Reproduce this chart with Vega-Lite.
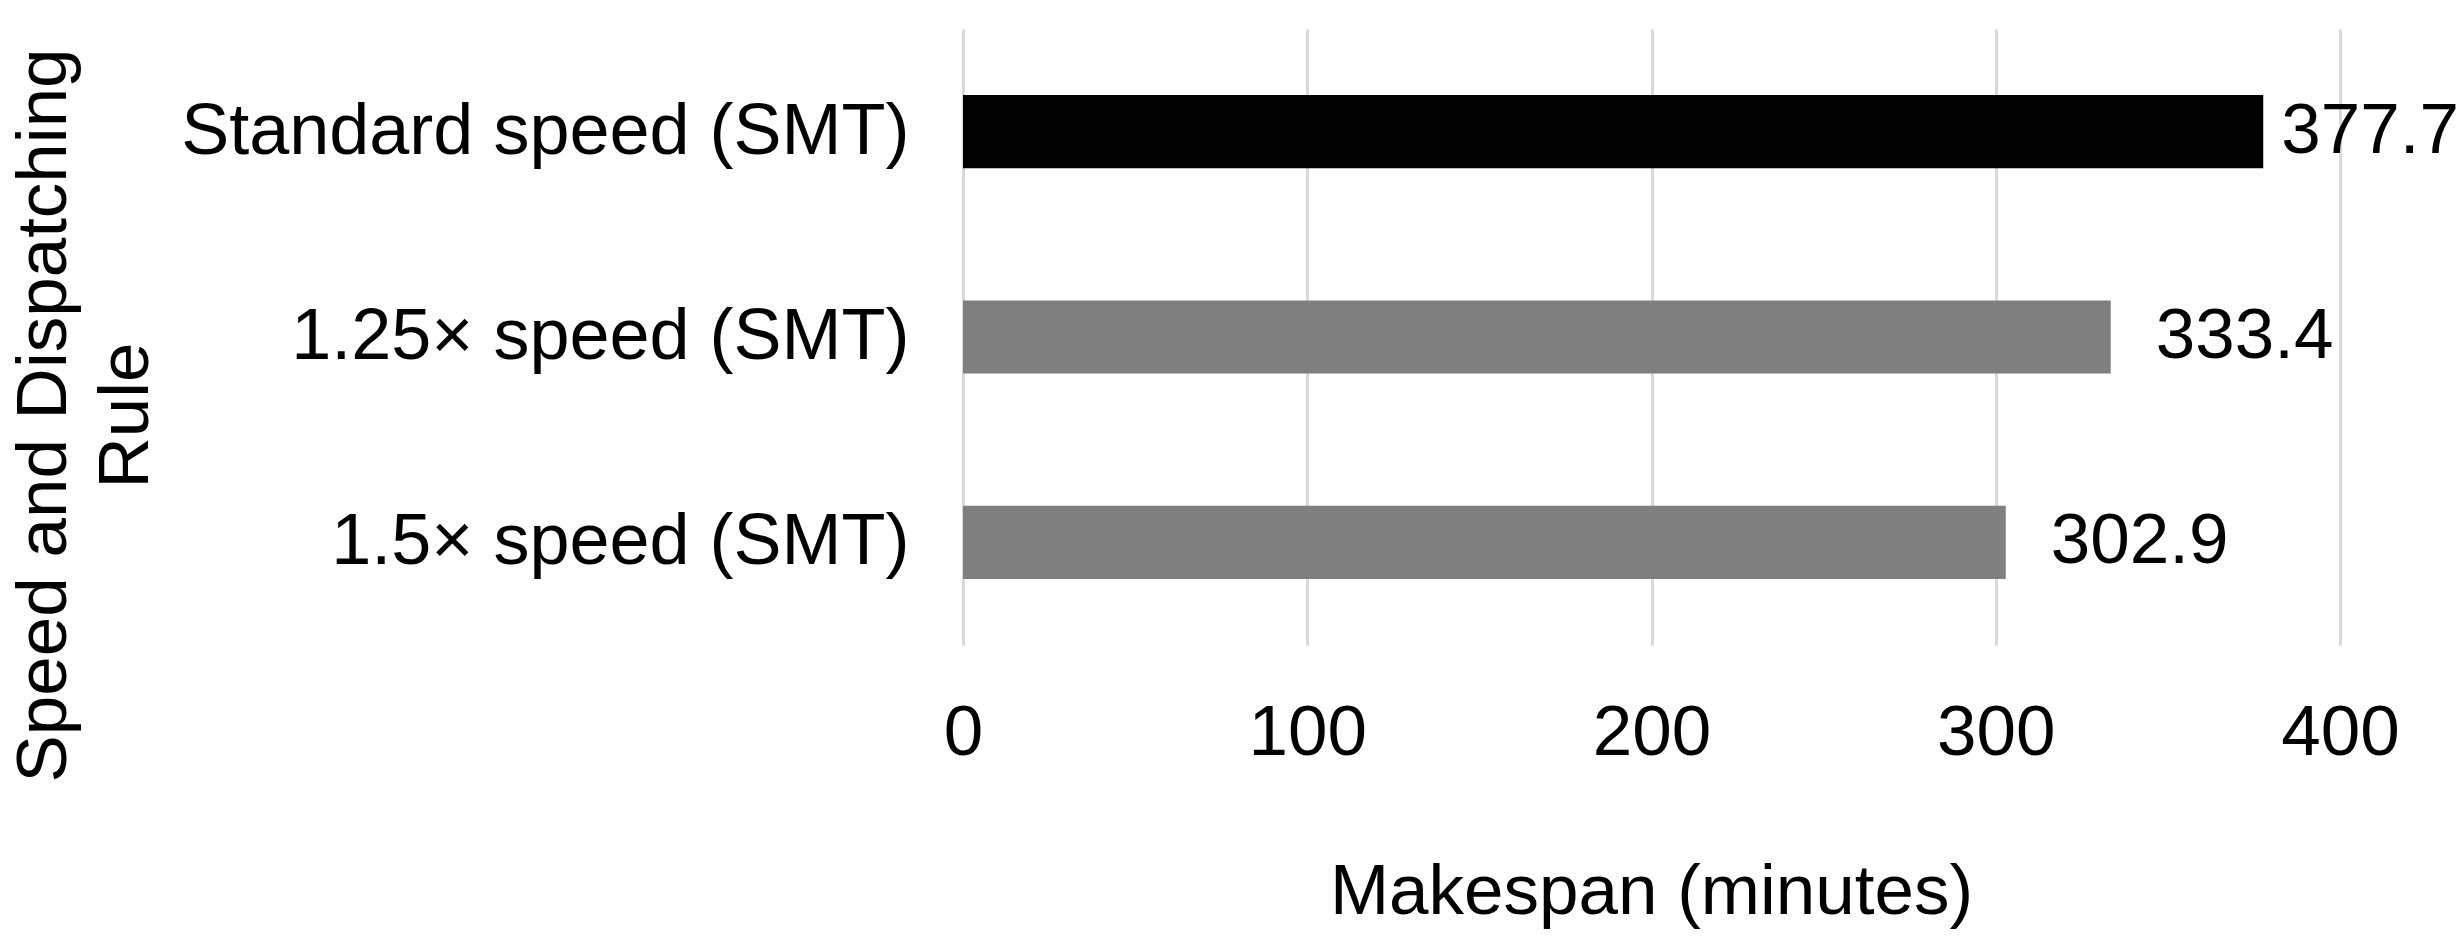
{
  "$schema": "https://vega.github.io/schema/vega-lite/v6.json",
  "width": 1377,
  "height": 616,
  "autosize": {"type": "none"},
  "padding": {"left": 963, "top": 29, "right": 121, "bottom": 294},
  "background": "white",
  "config": {"view": {"stroke": null}, "font": "Liberation Sans"},
  "data": {
    "values": [
      {"rule": "Standard speed (SMT)", "makespan": 377.7},
      {"rule": "1.25× speed (SMT)", "makespan": 333.4},
      {"rule": "1.5× speed (SMT)", "makespan": 302.9}
    ]
  },
  "encoding": {
    "y": {
      "field": "rule",
      "type": "nominal",
      "sort": null,
      "scale": {"paddingInner": 0.644, "paddingOuter": 0.322},
      "axis": {
        "labelFontSize": 72,
        "labelColor": "#000000",
        "labelFont": "Liberation Sans",
        "labelPadding": 54,
        "labelLimit": 1000,
        "ticks": false,
        "tickSize": 0,
        "domain": false,
        "grid": false,
        "title": ["Speed and Dispatching", "Rule"],
        "titleFont": "Liberation Sans",
        "titleFontSize": 71,
        "titleFontWeight": "normal",
        "titleColor": "#000000",
        "titleAngle": -90,
        "titleAlign": "center",
        "titleBaseline": "alphabetic",
        "titleLineHeight": 82,
        "titleX": -898,
        "titleY": 386
      }
    },
    "x": {
      "field": "makespan",
      "type": "quantitative",
      "scale": {"domain": [0, 400], "nice": false},
      "axis": {
        "values": [0, 100, 200, 300, 400],
        "labelFontSize": 71,
        "labelColor": "#000000",
        "labelFont": "Liberation Sans",
        "labelPadding": 53,
        "labelFlush": false,
        "ticks": false,
        "tickSize": 0,
        "domain": false,
        "grid": true,
        "gridColor": "#d9d9d9",
        "gridWidth": 3,
        "title": "Makespan (minutes)",
        "titleFont": "Liberation Sans",
        "titleFontSize": 71,
        "titleFontWeight": "normal",
        "titleColor": "#000000",
        "titleBaseline": "alphabetic",
        "titleX": 688,
        "titleY": 268
      }
    }
  },
  "layer": [
    {
      "mark": {"type": "bar"},
      "encoding": {
        "color": {
          "field": "rule",
          "type": "nominal",
          "scale": {
            "domain": ["Standard speed (SMT)", "1.25× speed (SMT)", "1.5× speed (SMT)"],
            "range": ["#000000", "#7f7f7f", "#7f7f7f"]
          },
          "legend": null
        }
      }
    },
    {
      "transform": [{"filter": "datum.rule === 'Standard speed (SMT)'"}],
      "mark": {"type": "text", "align": "left", "baseline": "middle", "dx": 18, "fontSize": 71, "font": "Liberation Sans", "color": "#000000"},
      "encoding": {"text": {"field": "makespan", "type": "quantitative", "format": ".1f"}}
    },
    {
      "transform": [{"filter": "datum.rule !== 'Standard speed (SMT)'"}],
      "mark": {"type": "text", "align": "left", "baseline": "middle", "dx": 45, "fontSize": 71, "font": "Liberation Sans", "color": "#000000"},
      "encoding": {"text": {"field": "makespan", "type": "quantitative", "format": ".1f"}}
    }
  ]
}
